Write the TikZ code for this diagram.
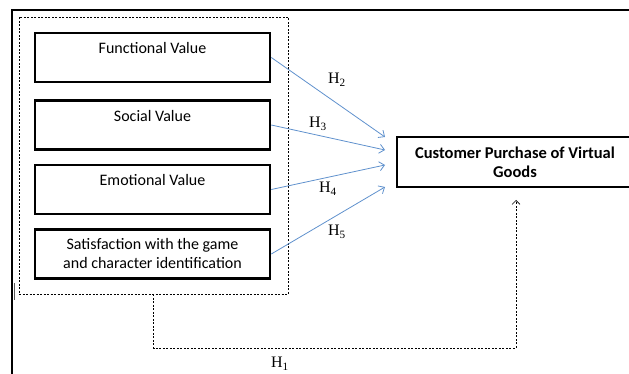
\documentclass[tikz,border=0pt]{standalone}
\usepackage{fontspec}
\setmainfont{Liberation Serif}
\newfontfamily\calfont{Carlito}
\usetikzlibrary{arrows.meta}
\definecolor{arrblue}{RGB}{95,145,205}
\begin{document}
\begin{tikzpicture}[x=1pt,y=-1pt,
  vbox/.style={draw,line width=2.6pt,minimum width=235pt,minimum height=49pt,inner sep=0pt,
    font=\calfont\fontsize{16}{19}\selectfont,align=center},
  tbox/.style={draw,line width=2.6pt,minimum width=236pt,minimum height=50pt,inner sep=0pt,
    font=\calfont\bfseries\fontsize{16.5}{18.7}\selectfont,align=center},
  grpbox/.style={draw,line width=0.6pt,dash pattern=on 2pt off 1.5pt,minimum width=269pt,minimum height=277pt,inner sep=0pt},
  hyp/.style={draw=arrblue,line width=0.8pt,-{Straight Barb[length=5pt,width=9pt]}},
  hlab/.style={font=\fontsize{16}{18}\selectfont,inner sep=0pt},
  dline/.style={draw,line width=0.6pt,dash pattern=on 2pt off 1.5pt,-{Straight Barb[length=4pt,width=8pt]}}]
\useasboundingbox (0,0) rectangle (629,374);
% outer frame
\draw[line width=1.5pt] (12,380) -- (12,10) -- (640,10);
\draw[line width=1pt,gray!70!black] (14.5,283) -- (14.5,300);
% group
\node[grpbox] (grp) at (153.5,155.5) {};
\node[vbox] (fv) at (152.5,57.5) {Functional Value\\\mbox{}};
\node[vbox] (sv) at (152.5,125) {Social Value\\\mbox{}};
\node[vbox] (ev) at (152.5,189.5) {Emotional Value\\\mbox{}};
\node[vbox] (sa) at (152.5,254) {Satisfaction with the game\\and character identification};
\node[tbox] (cp) at (515,162) {Customer Purchase of Virtual\\Goods};
% arrow ends
\coordinate (e2) at (385,137);
\coordinate (e3) at (385,150);
\coordinate (e4) at (385,165);
\coordinate (e5) at (385,187);
\coordinate (h1end) at (516,200);
\draw[hyp] (fv.east) -- (e2);
\draw[hyp] (sv.east) -- (e3);
\draw[hyp] (ev.east) -- (e4);
\draw[hyp] (sa.east) -- (e5);
\draw[dline] (grp.south) |- (516,348) -- (h1end);
% labels
\node[hlab] (l2) at (337,80) {H\textsubscript{2}};
\node[hlab] (l3) at (318,124) {H\textsubscript{3}};
\node[hlab] (l4) at (328,189) {H\textsubscript{4}};
\node[hlab] (l5) at (337,232) {H\textsubscript{5}};
\node[hlab] (l1) at (280,364) {H\textsubscript{1}};
\end{tikzpicture}
\end{document}
